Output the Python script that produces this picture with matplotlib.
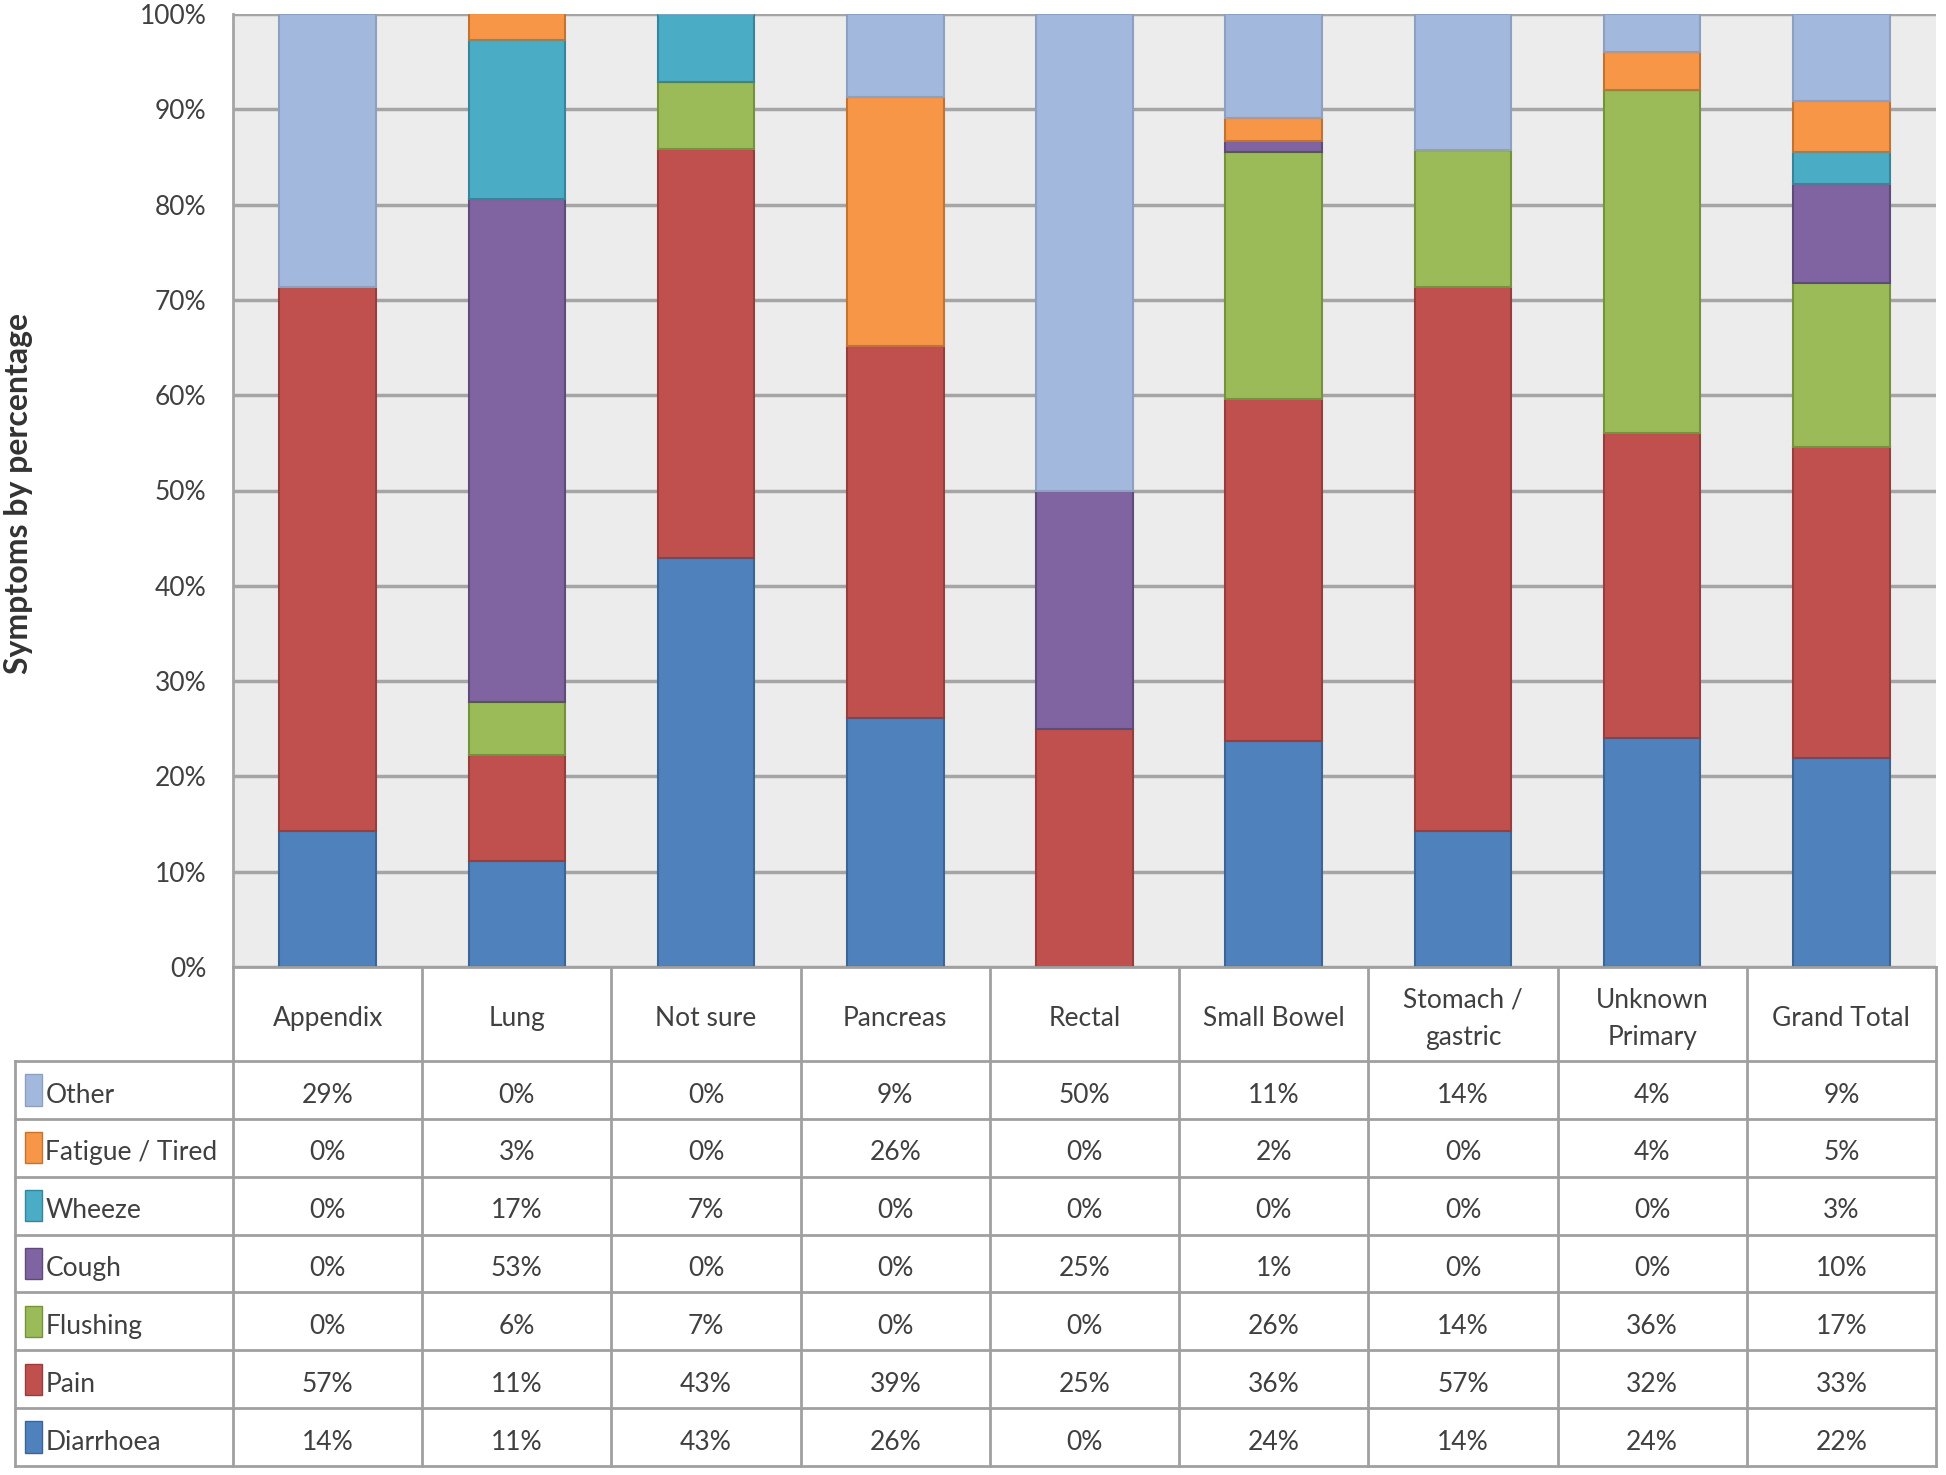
import numpy as np
import matplotlib
matplotlib.use("Agg")
import matplotlib.pyplot as plt
from matplotlib.patches import Rectangle

plt.rcParams['font.family'] = ['Lato', 'DejaVu Sans']

categories = ["Appendix", "Lung", "Not sure", "Pancreas", "Rectal", "Small Bowel",
              "Stomach /\ngastric", "Unknown\nPrimary", "Grand Total"]
symptoms = ["Diarrhoea", "Pain", "Flushing", "Cough", "Wheeze", "Fatigue / Tired", "Other"]

diarrhoea = [14.3, 11.1, 42.9, 26.1, 0.0, 23.7, 14.3, 24.0, 21.9]
pain      = [57.1, 11.1, 42.9, 39.1, 25.0, 35.9, 57.1, 32.0, 32.7]
flushing  = [0.0, 5.6, 7.1, 0.0, 0.0, 25.9, 14.3, 36.0, 17.2]
cough     = [0.0, 52.8, 0.0, 0.0, 25.0, 1.2, 0.0, 0.0, 10.4]
wheeze    = [0.0, 16.7, 7.1, 0.0, 0.0, 0.0, 0.0, 0.0, 3.3]
fatigue   = [0.0, 2.8, 0.0, 26.1, 0.0, 2.4, 0.0, 4.0, 5.4]
other     = [28.6, 0.0, 0.0, 8.7, 50.0, 10.9, 14.3, 4.0, 9.1]

series = [diarrhoea, pain, flushing, cough, wheeze, fatigue, other]
colors = ["#4F81BD", "#C0504D", "#9BBB59", "#8064A2", "#4BACC6", "#F79646", "#A3B8DD"]
edges  = ["#3A6594", "#963E3B", "#76923C", "#5F4B7A", "#36869B", "#C37331", "#8DA0C2"]

W, H = 1946, 1475
fig = plt.figure(figsize=(W / 100, H / 100), dpi=100)

# plot area in pixels
pl, pr, pt, pb = 233, 1936, 14, 967
ax = fig.add_axes([pl / W, 1 - pb / H, (pr - pl) / W, (pb - pt) / H])
ax.set_facecolor("#ECECEC")
x = np.arange(len(categories))
bottom = np.zeros(len(categories))
for vals, c, e in zip(series, colors, edges):
    v = np.array(vals)
    ax.bar(x, v, 0.51, bottom=bottom, color=c, edgecolor=e, linewidth=1.5, zorder=3)
    bottom += v
ax.set_xlim(-0.5, len(categories) - 0.5)
ax.set_ylim(0, 100)
ax.set_yticks(np.arange(0, 101, 10))
ax.set_yticklabels([f"{t}%" for t in range(0, 101, 10)], fontsize=19, color="#404040")
ax.set_xticks([])
ax.tick_params(axis="y", length=0, pad=19)
ax.yaxis.grid(True, color="#A5A5A5", linewidth=2.5, zorder=1)
ax.set_axisbelow(True)
for s in ["top", "right", "bottom"]:
    ax.spines[s].set_visible(False)
ax.spines["left"].set_color("#A5A5A5")
ax.spines["left"].set_linewidth(2)
fig.text(19 / W, 1 - 493 / H, "Symptoms by percentage", rotation=90, ha="center", va="center",
         fontsize=23, fontweight="bold", color="#333333")

# data table below
tl, tb = 15, 1466
colw = (pr - pl) / len(categories)
lw = (pl - tl) / colw
rowh = (tb - pb - 94) / len(symptoms)
hh = 94 / rowh
tax = fig.add_axes([tl / W, 1 - tb / H, (pr - tl) / W, (tb - pb) / H])
tax.set_xlim(-0.5 - lw, len(categories) - 0.5)
tax.set_ylim(0, len(symptoms) + hh)
tax.axis("off")
lc = "#A0A0A0"
ytop = len(symptoms) + hh
# header
for i, cat in enumerate(categories):
    tax.text(i, len(symptoms) + hh / 2 - 0.08, cat, ha="center", va="center", fontsize=19,
             color="#404040", linespacing=1.6)
for i in range(len(categories) + 1):
    tax.plot([i - 0.5, i - 0.5], [0, ytop], color=lc, lw=2, clip_on=False)
tax.plot([-0.5 - lw, -0.5 - lw], [0, len(symptoms)], color=lc, lw=2, clip_on=False)
tax.plot([-0.5, len(categories) - 0.5], [ytop, ytop], color=lc, lw=2, clip_on=False)
for r in range(len(symptoms) + 1):
    tax.plot([-0.5 - lw, len(categories) - 0.5], [r, r], color=lc, lw=2, clip_on=False)
# rows: Other at top, Diarrhoea at bottom
for r, (name, vals, c, e) in enumerate(zip(symptoms, series, colors, edges)):
    yc = r + 0.5
    tax.add_patch(Rectangle((-0.5 - lw + 0.053, yc - 0.27), 0.09, 0.54,
                            facecolor=c, edgecolor=e, lw=1))
    tax.text(-0.5 - lw + 0.16, yc - 0.09, name, ha="left", va="center", fontsize=19, color="#404040")
    for i, v in enumerate(vals):
        tax.text(i, yc - 0.09, f"{v:.0f}%", ha="center", va="center", fontsize=19, color="#404040")

fig.savefig("out.png", dpi=100, facecolor="white")
